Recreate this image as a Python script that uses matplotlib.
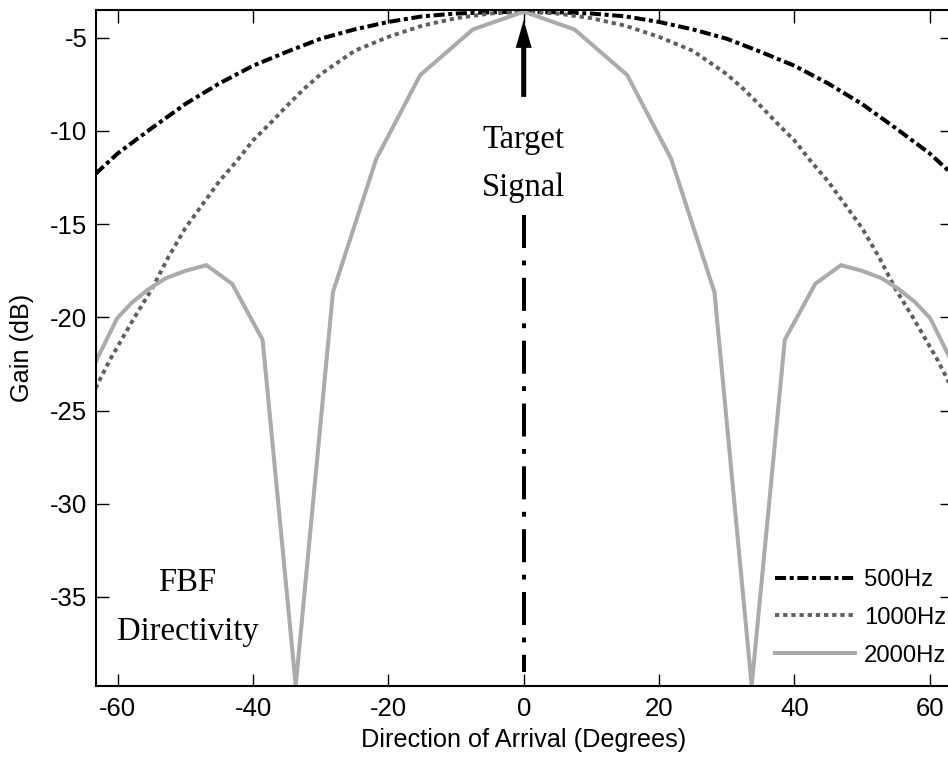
import matplotlib
matplotlib.use("Agg")
import matplotlib.pyplot as plt

# Beam pattern samples (degrees, dB)
angles_500 = [-63.3, -60, -55, -50, -45, -40, -35, -30, -25, -20, -15, -10, -5, 0,
              5, 10, 15, 20, 25, 30, 35, 40, 45, 50, 55, 60, 63.3]
gain_500 = [-12.3, -11.2, -9.85, -8.55, -7.45, -6.5, -5.75, -5.05, -4.55, -4.15, -3.85, -3.7, -3.63, -3.6,
            -3.63, -3.7, -3.85, -4.15, -4.55, -5.05, -5.75, -6.5, -7.45, -8.55, -9.85, -11.2, -12.3]

angles_1000 = [-63.3, -61.2, -57.7, -55, -52.5, -50, -47.5, -45, -42.5, -40, -37.5, -35, -32.5, -30,
               -25, -20, -15, -10, -5, 0,
               5, 10, 15, 20, 25, 30, 32.5, 35, 37.5, 40, 42.5, 45, 47.5, 50, 52.5, 55, 57.7, 61.2, 63.3]
gain_1000 = [-23.8, -22.3, -20.1, -18.5, -16.75, -15.2, -13.95, -12.7, -11.65, -10.5, -9.6, -8.65, -7.75, -6.95,
             -5.7, -4.95, -4.35, -3.95, -3.7, -3.6,
             -3.7, -3.95, -4.35, -4.95, -5.7, -6.95, -7.75, -8.65, -9.6, -10.5, -11.65, -12.7, -13.95, -15.2,
             -16.75, -18.5, -20.1, -22.3, -23.8]

angles_2000 = [-63.3, -60.1, -57.9, -55.5, -52.9, -50.0, -46.9, -43.1, -38.6, -33.7, -28.2, -21.8, -15.3, -7.5, 0,
               7.5, 15.3, 21.8, 28.2, 33.7, 38.6, 43.1, 46.9, 50.0, 52.9, 55.5, 57.9, 60.1, 63.3]
gain_2000 = [-22.4, -20.05, -19.2, -18.5, -17.9, -17.5, -17.2, -18.2, -21.2, -39.76, -18.65, -11.5, -7.0, -4.55, -3.6,
             -4.55, -7.0, -11.5, -18.65, -39.76, -21.2, -18.2, -17.2, -17.5, -17.9, -18.5, -19.2, -20.05, -22.4]

series_labels = ["500Hz", "1000Hz", "2000Hz"]
x_ticks = [-60, -40, -20, 0, 20, 40, 60]
y_ticks = [-35, -30, -25, -20, -15, -10, -5]

# Target direction marker
target_angle = 0
target_line_top = -14.5
target_line_bottom = -39.0
arrow_tip = -4.05
arrow_tail = -8.17

W, H = 948, 760
fig = plt.figure(figsize=(W / 100, H / 100), dpi=100)
left, right, top, bottom = 95.7, 951.7, 10.0, 685.7
ax = fig.add_axes([left / W, 1 - bottom / H, (right - left) / W, (bottom - top) / H])

sans = "Liberation Sans"
serif = "Liberation Serif"

l1, = ax.plot(angles_500, gain_500, color="black", lw=2.9, label=series_labels[0])
l1.set_dashes([2.75, 0.9, 1.0, 0.9])
l2, = ax.plot(angles_1000, gain_1000, color="#5f5f5f", lw=2.8, label=series_labels[1])
l2.set_dashes([1.1, 1.0])
l3, = ax.plot(angles_2000, gain_2000, color="#ababab", lw=2.9, label=series_labels[2],
              solid_joinstyle="miter")

# Vertical marker for the target direction
vl, = ax.plot([target_angle, target_angle], [target_line_top, target_line_bottom],
              color="black", lw=2.9)
vl.set_dashes([8.2, 3.1, 1.2, 3.1])

ax.annotate("", xy=(target_angle, arrow_tip), xytext=(target_angle, arrow_tail),
            arrowprops=dict(arrowstyle="simple,head_length=2.0,head_width=1.15,tail_width=0.36",
                            mutation_scale=10, color="black", shrinkA=0, shrinkB=0, lw=0))

ax.text(target_angle, -11.75, "Target\nSignal", family=serif, fontsize=23.5,
        ha="center", va="center", linespacing=1.72)
ax.text(-49.7, -35.55, "FBF\nDirectivity", family=serif, fontsize=23.5,
        ha="center", va="center", linespacing=1.75)

ax.set_xlim(-63.27, 63.27)
ax.set_ylim(-39.76, -3.51)
ax.set_xticks(x_ticks)
ax.set_yticks(y_ticks)
ax.set_xticklabels([str(v) for v in x_ticks], family=sans, fontsize=18.5)
ax.set_yticklabels([str(v) for v in y_ticks], family=sans, fontsize=18.5)
ax.tick_params(direction="in", length=9, width=1.0, top=True, right=True)
ax.tick_params(axis="x", pad=8)
ax.tick_params(axis="y", pad=6)
for s in ax.spines.values():
    s.set_linewidth(1.5)

ax.set_xlabel("Direction of Arrival (Degrees)", family=sans, fontsize=18.2)
ax.set_ylabel("Gain (dB)", family=sans, fontsize=18.2)
ax.xaxis.set_label_coords(0.5, (bottom - 740) / (bottom - top))
ax.xaxis.label.set_va("center")
ax.yaxis.set_label_coords((22 - left) / (right - left), 0.5)
ax.yaxis.label.set_va("center")

ax.legend(handles=[l1, l2, l3], loc="upper left",
          bbox_to_anchor=(775 / W, 1 - 569 / H), bbox_transform=fig.transFigure,
          frameon=False, borderpad=0, borderaxespad=0, handlelength=3.35,
          handletextpad=0.38, labelspacing=0.66, prop={"family": sans, "size": 17.2})

fig.savefig("out.png", dpi=100)
